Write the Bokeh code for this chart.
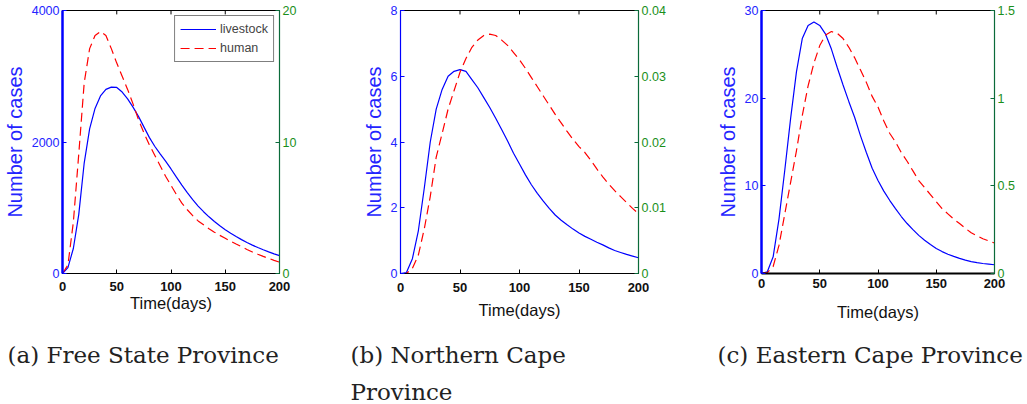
from bokeh.plotting import figure
from bokeh.models import (LinearAxis, Range1d, FixedTicker, Title, Legend,
                          LegendItem)
from bokeh.layouts import row
from bokeh.embed import file_html
from bokeh.resources import INLINE

# ---------------- data ----------------
days = [0, 5, 10, 15, 20, 25, 30, 35, 40, 45, 50, 55, 60, 65, 70, 75, 80, 85,
        90, 95, 100, 105, 110, 115, 120, 125, 130, 135, 140, 145, 150, 155,
        160, 165, 170, 175, 180, 185, 190, 195, 200]

# (a) Free State Province
livestock_a = [0, 90, 380, 900, 1680, 2200, 2510, 2700, 2800, 2835, 2830, 2760,
               2655, 2530, 2390, 2230, 2070, 1935, 1820, 1710, 1590, 1465, 1345,
               1230, 1125, 1025, 940, 862, 790, 725, 666, 612, 562, 515, 472,
               432, 395, 361, 329, 299, 271]
human_a = [0, 0.65, 3.9, 9.1, 14.5, 17.1, 18.1, 18.4, 18.1, 17.1, 16.0, 15.0,
           14.0, 12.9, 11.7, 10.7, 9.8, 9.0, 8.2, 7.4, 6.7, 6.0, 5.35, 4.85,
           4.4, 4.0, 3.7, 3.4, 3.14, 2.9, 2.68, 2.45, 2.24, 2.04, 1.83, 1.64,
           1.46, 1.3, 1.15, 1.0, 0.86]

# (b) Northern Cape Province
livestock_b = [0, 0.03, 0.45, 1.3, 2.6, 4.0, 5.0, 5.6, 6.0, 6.15, 6.2, 6.15,
               5.9, 5.65, 5.35, 5.05, 4.72, 4.38, 4.03, 3.66, 3.33, 3.0, 2.7,
               2.44, 2.2, 1.98, 1.78, 1.62, 1.48, 1.35, 1.23, 1.13, 1.04, 0.95,
               0.87, 0.78, 0.7, 0.64, 0.58, 0.53, 0.48]
human_b = [0, 0.0, 0.0008, 0.0028, 0.0068, 0.0117, 0.0177, 0.0213, 0.025,
           0.0278, 0.0306, 0.0327, 0.0344, 0.0355, 0.0362, 0.0364, 0.0362,
           0.0355, 0.0347, 0.0336, 0.0325, 0.0312, 0.0298, 0.0284, 0.027,
           0.0256, 0.0242, 0.0229, 0.0216, 0.0204, 0.0193, 0.0184, 0.0172,
           0.0159, 0.0147, 0.0136, 0.0126, 0.0117, 0.0108, 0.0099, 0.0091]

# (c) Eastern Cape Province
livestock_c = [0, 0.2, 1.9, 6.2, 11.8, 17.7, 23.0, 26.8, 28.3, 28.7, 28.3, 27.3,
               25.6, 23.5, 21.5, 19.6, 17.8, 15.7, 13.8, 12.0, 10.6, 9.4, 8.35,
               7.4, 6.5, 5.7, 5.0, 4.35, 3.8, 3.3, 2.85, 2.5, 2.2, 1.95, 1.72,
               1.53, 1.36, 1.24, 1.14, 1.07, 1.0]
human_c = [0, 0.005, 0.04, 0.16, 0.34, 0.52, 0.70, 0.90, 1.07, 1.20, 1.30,
           1.36, 1.38, 1.37, 1.34, 1.29, 1.23, 1.16, 1.09, 1.01, 0.95, 0.87,
           0.80, 0.75, 0.69, 0.64, 0.585, 0.53, 0.49, 0.45, 0.41, 0.37, 0.34,
           0.31, 0.285, 0.258, 0.232, 0.215, 0.198, 0.186, 0.174]

x_ticks = [0, 50, 100, 150, 200]
left_ticks_a = [0, 2000, 4000]
right_ticks_a = [0, 10, 20]
right_labels_a = ["0", "10", "20"]
left_ticks_b = [0, 2, 4, 6, 8]
right_ticks_b = [0, 0.01, 0.02, 0.03, 0.04]
right_labels_b = ["0", "0.01", "0.02", "0.03", "0.04"]
left_ticks_c = [0, 10, 20, 30]
right_ticks_c = [0, 0.5, 1, 1.5]
right_labels_c = ["0", "0.5", "1", "1.5"]

captions_a = ["(a) Free State Province"]
captions_b = ["(b)  Northern Cape", "Province"]
captions_c = ["(c) Eastern Cape Province"]
series_labels = ["livestock", "human"]

# ---------------- styles ----------------
BLUE = "#0000ff"
BLUE_TXT = "#2424ff"
RED = "#ff0000"
GREEN_TXT = "#1a8f1a"
GREEN_AX = "#0b6b3a"
SANS = "Liberation Sans"
SERIF = "DejaVu Serif"


def panel(width, bl, br, bb, frame_h, left_max, left_ticks, right_max,
          right_ticks, right_labels, livestock, human, captions, left_w,
          bottom_w, tick_standoff, xlabel_standoff, cap_offset, cap_standoffs,
          legend=False):
    p = figure(width=width, height=404, x_range=Range1d(0, 200),
               y_range=Range1d(0, left_max), x_axis_type=None,
               y_axis_type=None, output_backend="svg", toolbar_location=None,
               title=None,
               min_border_left=bl, min_border_right=br, min_border_top=10,
               min_border_bottom=bb)
    p.outline_line_color = "black"
    p.outline_line_width = 1
    p.background_fill_color = "white"
    p.border_fill_color = "white"
    p.extra_y_ranges = {"h": Range1d(0, right_max)}

    # small inward tick marks along the top edge (MATLAB box style)
    tick_len = left_max * 4.0 / frame_h
    p.segment(x0=x_ticks, y0=[left_max] * len(x_ticks), x1=x_ticks,
              y1=[left_max - tick_len] * len(x_ticks), line_color="black",
              line_width=1)

    r1 = p.line(days, livestock, line_color=BLUE, line_width=1.2)
    r2 = p.line(days, human, line_color=RED, line_width=1.2,
                line_dash="9 5", y_range_name="h")

    xa = LinearAxis(ticker=FixedTicker(ticks=x_ticks), axis_label="Time(days)")
    xa.axis_label_text_font = SANS
    xa.axis_label_text_font_size = "16.5px"
    xa.axis_label_text_font_style = "normal"
    xa.axis_label_text_color = "#111111"
    xa.axis_label_standoff = xlabel_standoff
    xa.major_label_text_font = SANS
    xa.major_label_text_font_size = "13px"
    xa.major_label_text_font_style = "bold"
    xa.major_label_text_color = "#111111"
    xa.major_label_standoff = tick_standoff
    xa.major_tick_in = 4
    xa.major_tick_out = 0
    xa.minor_tick_line_color = None
    xa.axis_line_width = bottom_w
    p.add_layout(xa, "below")

    for cap, so in zip(captions, cap_standoffs):
        t = Title(text=cap, align="left", offset=cap_offset,
                  text_font=SERIF, text_font_size="23px",
                  text_font_style="normal", text_color="#222222",
                  standoff=so)
        p.add_layout(t, "below")

    la = LinearAxis(ticker=FixedTicker(ticks=left_ticks),
                    axis_label="Number of cases")
    la.axis_label_text_font = SANS
    la.axis_label_text_font_size = "20px"
    la.axis_label_text_font_style = "normal"
    la.axis_label_text_color = BLUE_TXT
    la.axis_label_standoff = 3
    la.major_label_text_font = SANS
    la.major_label_text_font_size = "12.5px"
    la.major_label_text_color = BLUE_TXT
    la.major_label_standoff = 3
    la.major_tick_in = 4
    la.major_tick_out = 0
    la.major_tick_line_color = BLUE
    la.minor_tick_line_color = None
    la.axis_line_color = BLUE
    la.axis_line_width = left_w
    p.add_layout(la, "left")

    ra = LinearAxis(y_range_name="h", ticker=FixedTicker(ticks=right_ticks),
                    major_label_overrides=dict(zip(right_ticks, right_labels)))
    ra.major_label_text_font = SANS
    ra.major_label_text_font_size = "12.5px"
    ra.major_label_text_color = GREEN_TXT
    ra.major_label_standoff = 3
    ra.major_tick_in = 4
    ra.major_tick_out = 0
    ra.major_tick_line_color = GREEN_AX
    ra.minor_tick_line_color = None
    ra.axis_line_color = GREEN_AX
    ra.axis_line_width = 1.2
    p.add_layout(ra, "right")

    if legend:
        lg = Legend(items=[LegendItem(label=series_labels[0], renderers=[r1]),
                           LegendItem(label=series_labels[1], renderers=[r2])],
                    location="top_right")
        lg.margin = 5
        lg.padding = 5
        lg.spacing = 3
        lg.glyph_width = 36
        lg.glyph_height = 16
        lg.label_height = 16
        lg.label_standoff = 4
        lg.label_text_font = SANS
        lg.label_text_font_size = "12.5px"
        lg.border_line_color = "black"
        lg.border_line_width = 1
        lg.background_fill_alpha = 1
        p.add_layout(lg)
    return p


pa = panel(340, 62, 61, 124, 270, 4000, left_ticks_a, 20, right_ticks_a,
           right_labels_a, livestock_a, human_a, captions_a, 2.5, 1, 8, 0,
           -55, [51], legend=True)
pb = panel(360, 60, 62, 127, 267, 8, left_ticks_b, 0.04, right_ticks_b,
           right_labels_b, livestock_b, human_b, captions_b, 1.2, 1, 9, 6,
           -50, [37, -19])
pc = panel(327, 61, 33, 131, 263, 30, left_ticks_c, 1.5, right_ticks_c,
           right_labels_c, livestock_c, human_c, captions_c, 2.5, 2, 5, 12,
           -44, [32])

layout = row(pa, pb, pc, spacing=0)
open("out.html", "w").write(file_html(layout, INLINE))
